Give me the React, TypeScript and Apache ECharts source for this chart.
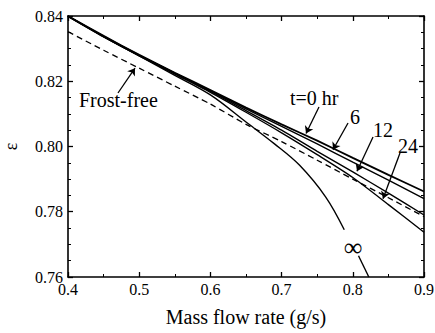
import React, { useEffect, useRef } from "react";
import * as echarts from "echarts";

// Mass flow rate (g/s)
const massFlow = [0.40, 0.45, 0.50, 0.55, 0.60, 0.65, 0.70, 0.75, 0.80, 0.85, 0.90];
// Effectiveness for frosting times
const eps0 = [0.8400, 0.8339, 0.8281, 0.8226, 0.8173, 0.8119, 0.8068, 0.8018, 0.7965, 0.7913, 0.7862];
const eps6 = [0.8400, 0.8338, 0.8280, 0.8225, 0.8171, 0.8115, 0.8062, 0.8008, 0.7952, 0.7897, 0.7840];
const eps12 = [0.8399, 0.8337, 0.8279, 0.8224, 0.8169, 0.8110, 0.8050, 0.7985, 0.7922, 0.7857, 0.7790];
const eps24 = [0.8399, 0.8336, 0.8278, 0.8222, 0.8166, 0.8105, 0.8042, 0.7975, 0.7905, 0.7822, 0.7737];
const epsFrostFree = [0.8352, 0.8295, 0.8240, 0.8185, 0.8130, 0.8068, 0.8015, 0.7958, 0.7900, 0.7843, 0.7785];
// t = infinity curve (broken around its label)
const infUpperX = [0.40, 0.45, 0.50, 0.55, 0.60, 0.65, 0.69, 0.725, 0.762, 0.788];
const infUpperY = [0.8400, 0.8337, 0.8278, 0.8218, 0.8158, 0.8075, 0.8008, 0.7943, 0.7845, 0.7745];
const infLowerX = [0.808, 0.8225];
const infLowerY = [0.7665, 0.7600];

const xTicks = { min: 0.4, max: 0.9, interval: 0.1 };
const yTicks = { min: 0.76, max: 0.84, interval: 0.02 };

const FONT = "'Liberation Serif', 'DejaVu Serif', serif";

export default function App() {
  const ref = useRef<HTMLDivElement>(null);
  useEffect(() => {
    if (!ref.current) return;
    const chart = echarts.init(ref.current, undefined, { renderer: "svg" });
    const pair = (xs: number[], ys: number[]) => xs.map((x, i) => [x, ys[i]]);
    const solid = (name: string, xs: number[], ys: number[], extra: any = {}) => ({
      type: "line",
      name,
      data: pair(xs, ys),
      showSymbol: false,
      smooth: 0.25,
      lineStyle: { color: "#000", width: 1.4 },
      silent: true,
      ...extra,
    });
    const arrow = (x1: number, y1: number, x2: number, y2: number) => [
      { coord: [x1, y1] },
      { coord: [x2, y2] },
    ];
    const axisCommon = {
      axisLine: { show: true, lineStyle: { color: "#000", width: 1.6 } },
      axisTick: { show: true, inside: true, length: 5, lineStyle: { color: "#000", width: 1.3 } },
      minorTick: { show: true, length: 3, lineStyle: { color: "#000", width: 1 } },
      splitLine: { show: false },
    };
    chart.setOption({
      animation: false,
      backgroundColor: "#fff",
      grid: { left: 68, right: 11, top: 16, bottom: 56, containLabel: false, outerBoundsMode: "none" },
      xAxis: [
        {
          type: "value",
          ...xTicks,
          position: "bottom",
          ...axisCommon,
          minorTick: { ...axisCommon.minorTick, splitNumber: 2 },
          axisLabel: {
            color: "#000",
            fontFamily: FONT,
            fontSize: 16,
            margin: 4,
            formatter: (v: number) => v.toFixed(1),
          },
          name: "Mass flow rate (g/s)",
          nameLocation: "middle",
          nameGap: 30,
          nameTextStyle: { color: "#000", fontFamily: FONT, fontSize: 20 },
        },
        {
          type: "value",
          ...xTicks,
          position: "top",
          ...axisCommon,
          minorTick: { ...axisCommon.minorTick, splitNumber: 2 },
          axisLabel: { show: false },
        },
      ],
      yAxis: [
        {
          type: "value",
          ...yTicks,
          position: "left",
          ...axisCommon,
          minorTick: { ...axisCommon.minorTick, splitNumber: 4 },
          axisLabel: {
            color: "#000",
            fontFamily: FONT,
            fontSize: 16,
            margin: 5,
            formatter: (v: number) => v.toFixed(2),
          },
          name: "ε",
          nameLocation: "middle",
          nameGap: 48,
          nameRotate: 90,
          nameTextStyle: { color: "#000", fontFamily: FONT, fontSize: 18 },
        },
        {
          type: "value",
          ...yTicks,
          position: "right",
          ...axisCommon,
          minorTick: { ...axisCommon.minorTick, splitNumber: 4 },
          axisLabel: { show: false },
        },
      ],
      series: [
        solid("t=0 hr", massFlow, eps0, { lineStyle: { color: "#000", width: 1.8 } }),
        solid("6", massFlow, eps6),
        solid("12", massFlow, eps12),
        solid("24", massFlow, eps24),
        solid("∞ upper", infUpperX, infUpperY, { smooth: 0.35 }),
        solid("∞ lower", infLowerX, infLowerY, { smooth: false }),
        solid("Frost-free", massFlow, epsFrostFree, {
          lineStyle: { color: "#000", width: 1.3, type: [6, 4] },
          markLine: {
            silent: true,
            symbol: ["none", "arrow"],
            symbolSize: 7,
            label: { show: false },
            lineStyle: { color: "#000", width: 1.3, type: "solid" },
            data: [
              arrow(0.7525, 0.8121, 0.7343, 0.8040),
              arrow(0.7933, 0.8072, 0.7722, 0.7990),
              arrow(0.8284, 0.8029, 0.8059, 0.7924),
              arrow(0.8663, 0.7980, 0.8424, 0.7840),
              arrow(0.4702, 0.8164, 0.4941, 0.8240),
            ],
          },
        }),
      ],
      graphic: [
        { type: "text", x: 290, y: 98, style: { text: "t=0 hr", font: `20px ${FONT}`, fill: "#000", verticalAlign: "middle" } },
        { type: "text", x: 350, y: 117, style: { text: "6", font: `20px ${FONT}`, fill: "#000", verticalAlign: "middle" } },
        { type: "text", x: 373, y: 130, style: { text: "12", font: `20px ${FONT}`, fill: "#000", verticalAlign: "middle" } },
        { type: "text", x: 398, y: 146, style: { text: "24", font: `20px ${FONT}`, fill: "#000", verticalAlign: "middle" } },
        { type: "text", x: 79, y: 100, style: { text: "Frost-free", font: `20px ${FONT}`, fill: "#000", verticalAlign: "middle" } },
        { type: "text", x: 353, y: 247, style: { text: "∞", font: `26px ${FONT}`, fill: "#000", align: "center", verticalAlign: "middle" } },
      ],
    });
    return () => chart.dispose();
  }, []);
  return (
    <div
      ref={ref}
      style={{ position: "fixed", left: 0, top: 0, width: 435, height: 333, background: "#fff" }}
    />
  );
}
